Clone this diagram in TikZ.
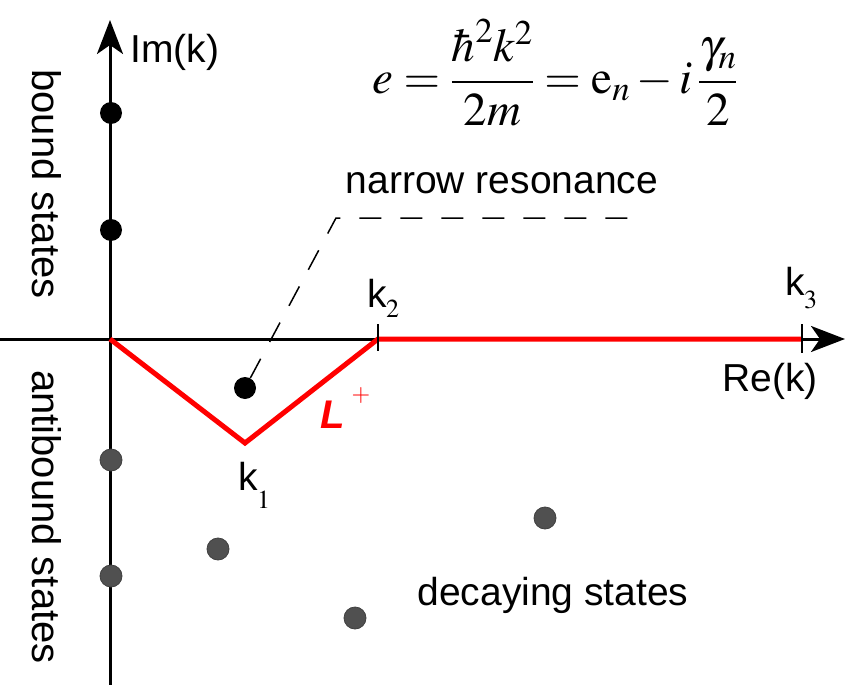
\documentclass[tikz,border=0pt]{standalone}
\usepackage{mathptmx}
\usepackage[no-math]{fontspec}
\setmainfont{Liberation Sans}
\usetikzlibrary{arrows.meta,calc}
\definecolor{dotgray}{RGB}{80,80,80}
\begin{document}
\begin{tikzpicture}[x=1pt,y=-1pt,
  lbl/.style={font=\fontsize{39}{44}\selectfont, inner sep=0pt},
  axisline/.style={line width=3pt, -{Stealth[length=34pt,width=26pt,inset=9pt]}},
  contour/.style={red, line width=5pt, line join=miter},
  tickmark/.style={line width=1.4pt},
  bdot/.style={circle, fill=black, minimum size=22pt, inner sep=0pt},
  gdot/.style={circle, fill=dotgray, draw=dotgray!80!black, line width=0.8pt, minimum size=22pt, inner sep=0pt},
  leader/.style={line width=1.5pt, dash pattern=on 22pt off 19pt},
  subs/.style={font=\fontsize{26}{26}\selectfont, inner sep=0pt}]
\useasboundingbox (0,0) rectangle (846,685);
% axes
\coordinate (xstart) at (0,339);
\coordinate (xend) at (845,339);
\coordinate (ybot) at (110,685);
\coordinate (ytop) at (110,20);
\draw[axisline] (xstart) -- (xend);
\draw[axisline] (ybot) -- (ytop);
% contour
\coordinate (O) at (110,339);
\coordinate (k1) at (245,443);
\coordinate (k2) at (378,339);
\coordinate (k3) at (802,339);
\draw[contour] (O) -- (k1) -- (k2) -- (k3);
\draw[tickmark] ($(k2)+(0,-15)$) -- ($(k2)+(0,12)$);
\draw[tickmark] ($(k3)+(0,-15)$) -- ($(k3)+(0,14)$);
% dots
\node[bdot] (b1) at (111,113) {};
\node[bdot] (b2) at (111,230) {};
\node[gdot] (a1) at (111,460) {};
\node[gdot] (a2) at (111,576) {};
\node[bdot] (nr) at (245,388) {};
\node[gdot] (d1) at (218,549) {};
\node[gdot] (d2) at (355,618) {};
\node[gdot] (d3) at (545,518) {};
% leader for narrow resonance
\coordinate (c) at (336,218);
\coordinate (e) at (646,218);
\draw[leader] (nr) -- (c) -- (e);
% labels
\node[lbl, anchor=base west] (im) at (130,63) {Im(k)};
\node[lbl, anchor=base west] (re) at (722,391) {Re(k)};
\node[lbl, anchor=base] (nrl) at (502,193) {narrow resonance};
\node[lbl, anchor=base] (dec) at (553,605) {decaying states};
\node[lbl, rotate=-90, font=\fontsize{40}{44}\selectfont] (bs) at (47,184) {bound states};
\node[lbl, rotate=-90, font=\fontsize{40}{44}\selectfont] (abs) at (47,517) {antibound states};
\node[lbl, anchor=base west] (lk1) at (238,490) {k};
\node[subs, anchor=base west] (lk1s) at (257,508) {$1$};
\node[lbl, anchor=base west] (lk2) at (367,307) {k};
\node[subs, anchor=base west] (lk2s) at (386,317) {$2$};
\node[lbl, anchor=base west] (lk3) at (785,295) {k};
\node[subs, anchor=base west] (lk3s) at (804,308) {$3$};
\node[inner sep=0pt, anchor=base west, text=red, font=\fontsize{40}{44}\selectfont\bfseries\itshape] (L) at (320,428) {L};
\node[inner sep=0pt, text=red, font=\fontsize{24}{24}\selectfont] (Lp) at (361,396) {$+$};
% formula
\node[inner sep=0pt, font=\fontsize{47}{52}\selectfont] (eq) at (555,73)
  {$\displaystyle e=\frac{\hbar^{2}k^{2}}{2m}=\mathrm{e}_{n}-i\,\frac{\gamma_{n}}{2}$};
\end{tikzpicture}
\end{document}
